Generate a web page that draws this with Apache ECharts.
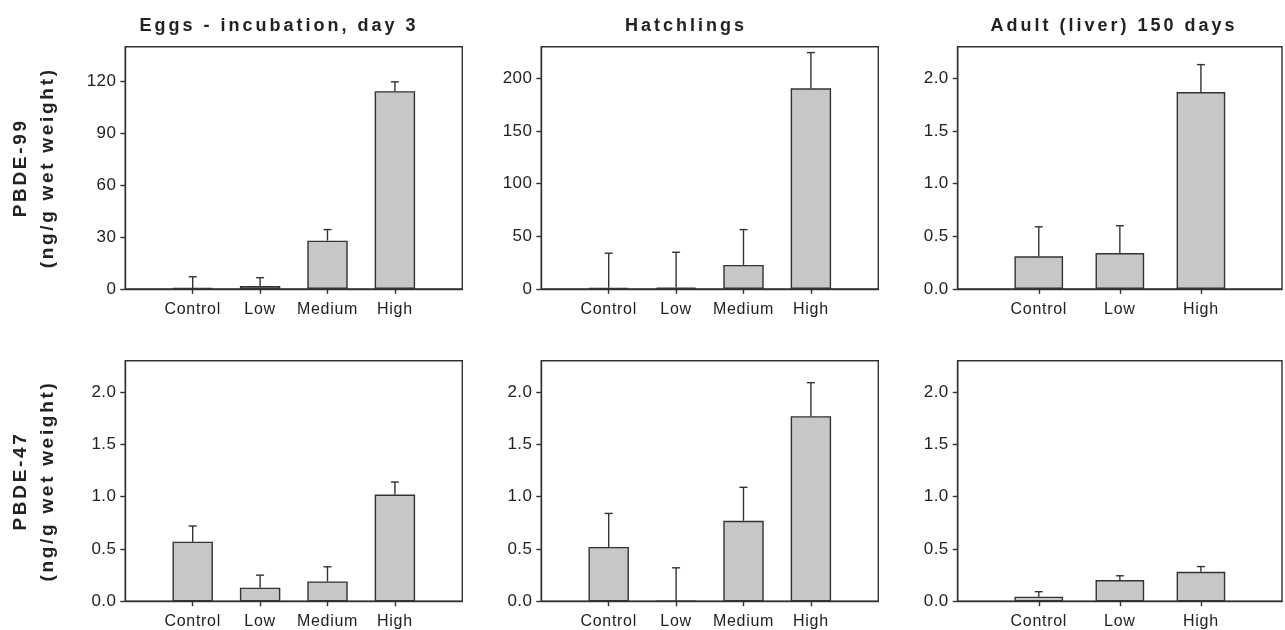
<!DOCTYPE html>
<html><head><meta charset="utf-8">
<script src="https://cdn.jsdelivr.net/npm/echarts@6/dist/echarts.min.js"></script>
<style>html,body{margin:0;padding:0;background:#fff}#c{width:1285px;height:630px}</style>
</head><body><div id="c"></div>
<script>
// Letter spacing for canvas text (the reference uses tracked type)
(function () {
  var proto = window.CanvasRenderingContext2D && CanvasRenderingContext2D.prototype;
  if (!proto || !('letterSpacing' in proto)) return;
  var d = Object.getOwnPropertyDescriptor(proto, 'font');
  if (!d) return;
  Object.defineProperty(proto, 'font', {
    configurable: true,
    get: function () { return d.get.call(this); },
    set: function (v) {
      d.set.call(this, v);
      var ls = '0px';
      if (/bold/.test(v) && /\b18px/.test(v)) ls = '3px';
      else if (/bold/.test(v)) ls = '2.7px';
      else if (/\b16px/.test(v)) ls = '0.7px';
      else if (/\b17px/.test(v)) ls = '0.4px';
      this.letterSpacing = ls;
    }
  });
})();

// ---------------- data ----------------
const categories4 = ['Control', 'Low', 'Medium', 'High'];
const categories3 = ['Control', 'Low', 'High'];
const colTitles = ['Eggs - incubation, day 3', 'Hatchlings', 'Adult (liver) 150 days'];
const rowNames = ['PBDE-99\n(ng/g wet weight)', 'PBDE-47\n(ng/g wet weight)'];

const eggs99Mean = [0.5, 1.7, 27.9, 114.3];
const eggs99Err = [6.5, 4.8, 6.4, 5.4];
const hatch99Mean = [1.0, 1.3, 22.8, 190.5];
const hatch99Err = [32.9, 33.5, 33.5, 33.9];
const adult99Mean = [0.31, 0.34, 1.87];
const adult99Err = [0.28, 0.26, 0.26];

const eggs47Mean = [0.57, 0.13, 0.19, 1.02];
const eggs47Err = [0.15, 0.12, 0.14, 0.12];
const hatch47Mean = [0.52, 0.0, 0.77, 1.77];
const hatch47Err = [0.32, 0.32, 0.32, 0.32];
const adult47Mean = [0.044, 0.203, 0.282];
const adult47Err = [0.048, 0.041, 0.05];

const ticksEggs99 = [0, 30, 60, 90, 120];
const ticksHatch99 = [0, 50, 100, 150, 200];
const ticksDecimal = [0, 0.5, 1.0, 1.5, 2.0];

// ---------------- layout ----------------
const panels = [
  { cats: categories4, mean: eggs99Mean, err: eggs99Err, ticks: ticksEggs99, max: 140, dec: 0, row: 0, col: 0 },
  { cats: categories4, mean: hatch99Mean, err: hatch99Err, ticks: ticksHatch99, max: 230, dec: 0, row: 0, col: 1 },
  { cats: categories3, mean: adult99Mean, err: adult99Err, ticks: ticksDecimal, max: 2.3, dec: 1, row: 0, col: 2 },
  { cats: categories4, mean: eggs47Mean, err: eggs47Err, ticks: ticksDecimal, max: 2.3, dec: 1, row: 1, col: 0 },
  { cats: categories4, mean: hatch47Mean, err: hatch47Err, ticks: ticksDecimal, max: 2.3, dec: 1, row: 1, col: 1 },
  { cats: categories3, mean: adult47Mean, err: adult47Err, ticks: ticksDecimal, max: 2.3, dec: 1, row: 1, col: 2 }
];
const colLeft = [125.3, 541.3, 957.7];
const gridW = 337;
const rowTop = [46.7, 360.7];
const gridH = 242.2;
const titleX = [279, 686, 1114];

const FONT = '"Liberation Sans", Arial, sans-serif';
const INK = '#222';
const LINE = '#333';
const FILL = '#c6c7c9';

const grids = [], xAxes = [], yAxes = [], series = [];
panels.forEach(function (p, i) {
  const padded = [''].concat(p.cats, ['']);
  const n = padded.length;
  grids.push({
    left: colLeft[p.col], top: rowTop[p.row], width: gridW, height: gridH,
    show: true, borderColor: LINE, borderWidth: 1.4, backgroundColor: 'transparent'
  });
  xAxes.push({
    type: 'category', gridIndex: i, data: padded, boundaryGap: false,
    axisLine: { show: true, lineStyle: { color: LINE, width: 1.4 } },
    axisTick: { show: true, length: 5, inside: false, lineStyle: { color: LINE, width: 1.4 },
      interval: function (idx) { return idx > 0 && idx < n - 1; } },
    axisLabel: { interval: 0, margin: 12, color: INK, fontSize: 16, fontFamily: FONT },
    splitLine: { show: false }
  });
  yAxes.push({
    type: 'value', gridIndex: i, min: 0, max: p.max,
    axisLine: { show: true, lineStyle: { color: LINE, width: 1.4 } },
    axisTick: { show: true, length: 5, inside: false, customValues: p.ticks, lineStyle: { color: LINE, width: 1.4 } },
    axisLabel: { customValues: p.ticks, margin: 9, color: INK, fontSize: 17, fontFamily: FONT,
      formatter: function (v) { return p.dec ? Number(v).toFixed(1) : String(v); } },
    splitLine: { show: false },
    name: p.col === 0 ? rowNames[p.row] : '',
    nameLocation: 'middle', nameRotate: 90, nameGap: 64,
    nameTextStyle: { fontWeight: 'bold', fontSize: 19, lineHeight: 27, color: INK, fontFamily: FONT, align: 'center' }
  });
  series.push({
    type: 'bar', xAxisIndex: i, yAxisIndex: i, barWidth: '60%',
    data: p.mean.map(function (v, k) { return [k + 1, v]; }),
    itemStyle: { color: FILL, borderColor: LINE, borderWidth: 1.4 },
    silent: true, animation: false
  });
  series.push({
    type: 'custom', xAxisIndex: i, yAxisIndex: i, z: 5, silent: true, animation: false,
    data: p.mean.map(function (v, k) { return [k + 1, v, p.err[k]]; }),
    encode: { x: 0, y: 1 },
    renderItem: function (params, api) {
      const x = api.value(0), m = api.value(1), e = api.value(2);
      const a = api.coord([x, m]);
      const b = api.coord([x, m + e]);
      const hw = 4;
      return {
        type: 'group', children: [
          { type: 'line', shape: { x1: a[0], y1: a[1], x2: b[0], y2: b[1] }, style: { stroke: LINE, lineWidth: 1.4 } },
          { type: 'line', shape: { x1: b[0] - hw, y1: b[1], x2: b[0] + hw, y2: b[1] }, style: { stroke: LINE, lineWidth: 1.4 } }
        ]
      };
    }
  });
});

const chart = echarts.init(document.getElementById('c'), null, { renderer: 'canvas', width: 1285, height: 630 });
chart.setOption({
  animation: false,
  backgroundColor: '#fff',
  grid: grids, xAxis: xAxes, yAxis: yAxes, series: series,
  graphic: colTitles.map(function (t, i) {
    return { type: 'text', x: titleX[i], y: 26, silent: true,
      style: { text: t, fontSize: 18, fontWeight: 'bold', fontFamily: FONT, fill: INK, align: 'center', verticalAlign: 'middle' } };
  })
});
</script>
</body></html>
